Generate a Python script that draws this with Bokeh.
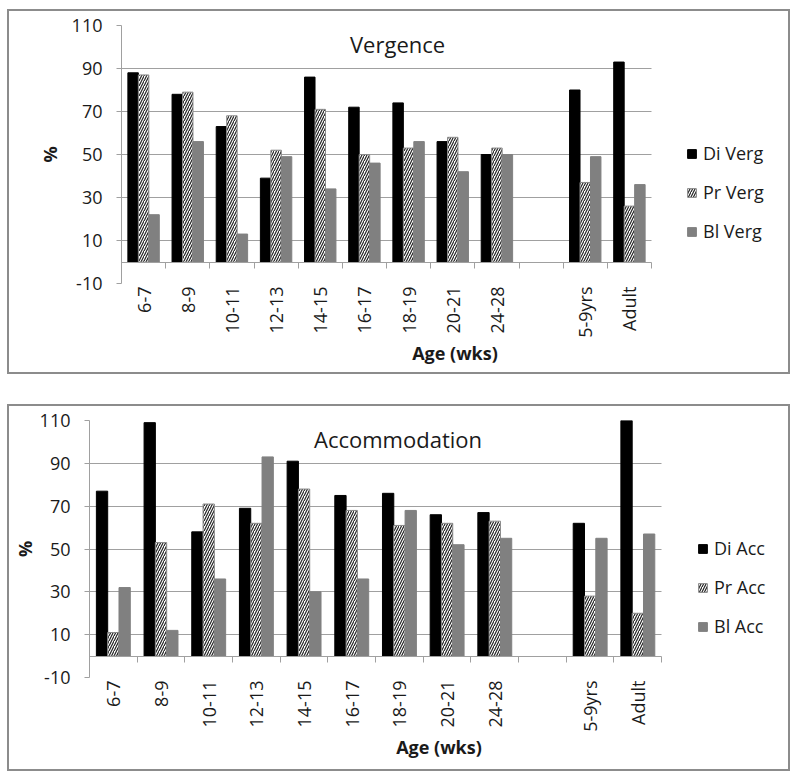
import numpy as np
from bokeh.plotting import figure
from bokeh.models import (Range1d, FixedTicker, LinearAxis, Legend, LegendItem, Label,
                          ColumnDataSource, Spacer)
from bokeh.layouts import column, row
from bokeh.embed import file_html
from bokeh.resources import INLINE

categories = ["6-7", "8-9", "10-11", "12-13", "14-15", "16-17", "18-19", "20-21", "24-28", "", "5-9yrs", "Adult"]
y_ticks = [-10, 10, 30, 50, 70, 90, 110]

verg_names = ["Di Verg", "Pr Verg", "Bl Verg"]
di_verg = [88, 78, 63, 39, 86, 72, 74, 56, 50, None, 80, 93]
pr_verg = [87, 79, 68, 52, 71, 50, 53, 58, 53, None, 37, 26]
bl_verg = [22, 56, 13, 49, 34, 46, 56, 42, 50, None, 49, 36]

acc_names = ["Di Acc", "Pr Acc", "Bl Acc"]
di_acc = [77, 109, 58, 69, 91, 75, 76, 66, 67, None, 62, 110]
pr_acc = [11, 53, 71, 62, 78, 68, 61, 62, 63, None, 28, 20]
bl_acc = [32, 12, 36, 93, 30, 36, 68, 52, 55, None, 55, 57]

FONT = "Open Sans"
GRID = "#a0a0a0"
BORDER = "#8c8c8c"
TXT = "#1a1a1a"


def make_chart(title_text, names, series, width, height, mbl, cat_px, mbt, mbb,
               title_xy, legend_loc, ylab_standoff):
    n = len(categories)
    x_end = -0.5 + n * (width - mbl) / cat_px
    p = figure(width=width, height=height, x_range=Range1d(-0.5, x_end),
               y_range=Range1d(-10, 110), output_backend="svg", toolbar_location=None,
               min_border_left=mbl, min_border_right=0, min_border_top=mbt,
               min_border_bottom=mbb)
    p.frame_align = False
    p.styles = {"outline": "2px solid " + BORDER}
    p.outline_line_color = None
    p.background_fill_color = "white"
    p.border_fill_color = "white"
    p.xgrid.visible = False
    p.ygrid.ticker = FixedTicker(ticks=y_ticks)
    p.ygrid.grid_line_color = GRID
    p.ygrid.grid_line_width = 1
    p.ygrid.cross_bounds = (-0.5, n - 0.5)

    # y axis
    p.yaxis.ticker = FixedTicker(ticks=y_ticks)
    p.yaxis.major_label_overrides = {t: str(t) for t in y_ticks}
    p.yaxis.axis_line_color = GRID
    p.yaxis.major_tick_line_color = GRID
    p.yaxis.major_tick_out = 5
    p.yaxis.major_tick_in = 0
    p.yaxis.minor_tick_line_color = None
    p.yaxis.major_label_text_font = FONT
    p.yaxis.major_label_text_font_size = "18px"
    p.yaxis.major_label_text_color = TXT
    p.yaxis.major_label_standoff = 14
    p.yaxis.axis_label = "%"
    p.yaxis.axis_label_text_font = FONT
    p.yaxis.axis_label_text_font_size = "18px"
    p.yaxis.axis_label_text_font_style = "bold"
    p.yaxis.axis_label_text_color = TXT
    p.yaxis.axis_label_standoff = ylab_standoff

    # category labels below the frame
    p.xaxis.ticker = FixedTicker(ticks=list(range(n)))
    p.xaxis.major_label_overrides = {i: c for i, c in enumerate(categories)}
    p.xaxis.major_label_orientation = np.pi / 2
    p.xaxis.axis_line_color = None
    p.xaxis.major_tick_line_color = None
    p.xaxis.major_tick_out = 0
    p.xaxis.major_tick_in = 0
    p.xaxis.minor_tick_line_color = None
    p.xaxis.major_label_text_font = FONT
    p.xaxis.major_label_text_font_size = "18px"
    p.xaxis.major_label_text_color = TXT
    p.xaxis.major_label_standoff = 3
    p.xaxis.axis_label = "Age (wks)"
    p.xaxis.axis_label_text_font = FONT
    p.xaxis.axis_label_text_font_size = "18px"
    p.xaxis.axis_label_text_font_style = "bold"
    p.xaxis.axis_label_text_color = TXT
    p.xaxis.axis_label_standoff = 0
    p.xaxis.bounds = (-0.5, n - 0.5)

    # category axis line at zero with boundary ticks
    zax = LinearAxis(ticker=FixedTicker(ticks=[i - 0.5 for i in range(n + 1)]),
                     fixed_location=0, major_tick_in=6, major_tick_out=0,
                     minor_tick_line_color=None, major_label_text_font_size="1px",
                     major_label_text_color=None, major_label_standoff=0,
                     axis_line_color=GRID, major_tick_line_color=GRID,
                     bounds=(-0.5, n - 0.5))
    p.add_layout(zax, "above")

    bw = 0.237
    offsets = [-bw, 0, bw]
    styles = [
        dict(fill_color="black", line_color="black"),
        dict(fill_color="white", line_color="#8a8a8a", hatch_pattern="/",
             hatch_color="#222222", hatch_scale=5, hatch_weight=1.2),
        dict(fill_color="#808080", line_color="#808080"),
    ]
    items = []
    for name, vals, off, st in zip(names, series, offsets, styles):
        xs = [i + off for i, v in enumerate(vals) if v is not None]
        tops = [v for v in vals if v is not None]
        src = ColumnDataSource(dict(x=xs, top=tops))
        r = p.vbar(x="x", top="top", bottom=0, width=bw, source=src, line_width=1, **st)
        items.append(LegendItem(label=name, renderers=[r]))

    legend = Legend(items=items, location=legend_loc, orientation="vertical",
                    border_line_color=None, background_fill_alpha=0, padding=0,
                    spacing=15, glyph_width=11, glyph_height=11, label_height=24,
                    label_text_font=FONT, label_text_font_size="18px",
                    label_text_color=TXT, label_standoff=6, margin=0)
    p.add_layout(legend, "center")

    p.add_layout(Label(x=title_xy[0], y=title_xy[1], text=title_text, text_align="center",
                       text_baseline="middle", text_font=FONT, text_font_size="22px",
                       text_color=TXT))
    return p


# top chart: element at x 9..788, y 11..372
p1 = make_chart("Vergence", verg_names, [di_verg, pr_verg, bl_verg],
                779, 361, 112, 530, 14, 89, (5.75, 101.2), (565, 40), 7)
# bottom chart: element at x 9..788, y 406..769
p2 = make_chart("Accommodation", acc_names, [di_acc, pr_acc, bl_acc],
                779, 363, 79, 573, 14, 92, (5.97, 101.4), (608, 39), 0)

layout = row(Spacer(width=9),
             column(Spacer(height=11), p1, Spacer(height=34), p2, Spacer(height=3)),
             Spacer(width=4))
open("out.html", "w").write(file_html(layout, INLINE))
